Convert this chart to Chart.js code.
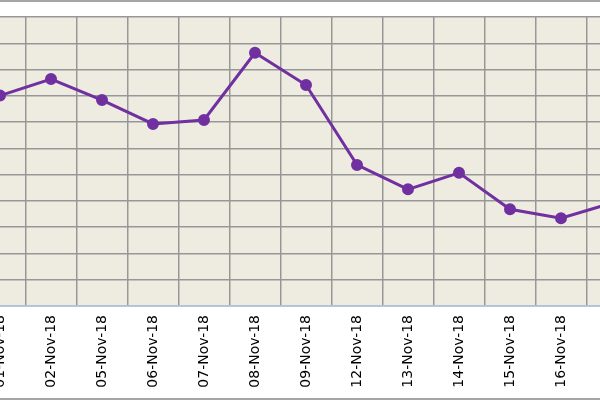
<!DOCTYPE html>
<html>
<head>
<meta charset="utf-8">
<script src="https://cdn.jsdelivr.net/npm/chart.js@4/dist/chart.umd.min.js"></script>
<style>
    html, body { margin: 0; padding: 0; background: #ffffff; }
    #frame {
        position: relative;
        width: 600px;
        height: 400px;
        overflow: hidden;
        background: #ffffff;
    }
    #frame .edge {
        position: absolute;
        left: 0;
        width: 600px;
        height: 2px;
        background: #a5a5a5;
    }
    #holder {
        position: absolute;
        left: -33px;
        top: 0;
        width: 678px;
        height: 400px;
    }
</style>
</head>
<body>
<div id="frame">
    <div id="holder"><canvas id="grafico"></canvas></div>
    <div class="edge" style="top:0"></div>
    <div class="edge" style="top:398px"></div>
</div>

<script>
// datos
var fechas = ["01-Nov-18", "02-Nov-18", "05-Nov-18", "06-Nov-18", "07-Nov-18", "08-Nov-18",
    "09-Nov-18", "12-Nov-18", "13-Nov-18", "14-Nov-18", "15-Nov-18", "16-Nov-18", "19-Nov-18"];
var valores = [8.01, 8.64, 7.84, 6.93, 7.08, 9.64, 8.41, 5.37, 4.44, 5.07, 3.68, 3.34, 3.92];
var escalaY = [0, 11];

// fondo del area de trazado
var fondoPlot = {
    id: "fondoPlot",
    beforeDraw: function (chart) {
        var a = chart.chartArea;
        var ctx = chart.ctx;
        ctx.save();
        ctx.fillStyle = "#eeece1";
        ctx.fillRect(a.left, a.top, a.right - a.left, a.bottom - a.top);
        ctx.restore();
    }
};

document.addEventListener("DOMContentLoaded", function () {
    var ctx = document.getElementById("grafico").getContext("2d");
    var grafico = new Chart(ctx, {
        type: "line",
        data: {
            labels: fechas,
            datasets: [
                {
                    label: "Serie",
                    data: valores,
                    borderColor: "#7030a0",
                    backgroundColor: "#7030a0",
                    borderWidth: 3,
                    pointRadius: 4.5,
                    pointHoverRadius: 4.5,
                    tension: 0,
                },
            ],
        },
        options: {
            responsive: true,
            maintainAspectRatio: false,
            animation: false,
            layout: { padding: { top: 17, left: 0, right: 0, bottom: 0 } },
            plugins: {
                legend: { display: false },
                tooltip: { enabled: false },
            },
            scales: {
                x: {
                    offset: true,
                    grid: { offset: true, color: "#979797", lineWidth: 1.5, drawTicks: false },
                    border: { color: "#a9c3df", width: 1.5 },
                    ticks: {
                        color: "#000000",
                        font: { family: "DejaVu Sans", size: 14 },
                        minRotation: 90,
                        maxRotation: 90,
                        padding: 9,
                        autoSkip: false,
                    },
                    afterFit: function (scale) { scale.height = 94; },
                },
                y: {
                    min: escalaY[0],
                    max: escalaY[1],
                    ticks: { stepSize: 1, display: false },
                    grid: { color: "#979797", lineWidth: 1.5, drawTicks: false },
                    border: { display: false },
                    afterFit: function (scale) { scale.width = 0; },
                },
            },
        },
        plugins: [fondoPlot],
    });
});
</script>
</body>
</html>
